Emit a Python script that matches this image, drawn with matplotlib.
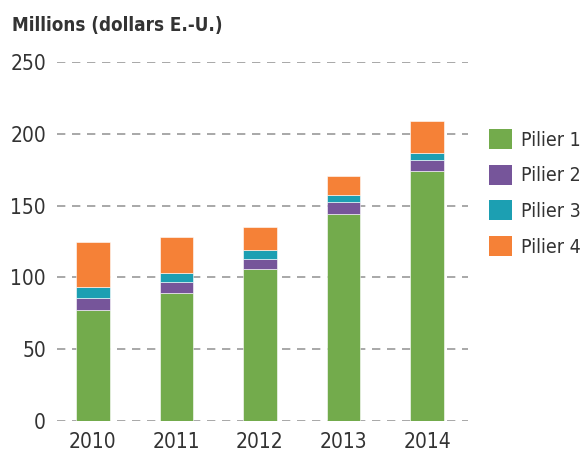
import matplotlib.pyplot as plt
import numpy as np
from matplotlib.patches import Patch

years = ["2010", "2011", "2012", "2013", "2014"]
pilier1 = [77, 89, 106, 144, 174]
pilier2 = [8.5, 8, 7, 8.5, 8]
pilier3 = [7.5, 6, 6, 5, 4.5]
pilier4 = [32, 25, 16, 13, 22.5]
series = [pilier1, pilier2, pilier3, pilier4]
labels = ["Pilier 1", "Pilier 2", "Pilier 3", "Pilier 4"]
colors = ["#73ab4c", "#76559a", "#1c9fb2", "#f58137"]

plt.rcParams['font.family'] = ['DejaVu Sans']
plt.rcParams['font.stretch'] = 'condensed'

fig = plt.figure(figsize=(5.81, 4.57), dpi=100)
ax = fig.add_axes([57 / 581, 1 - 421 / 457, (468 - 57) / 581, (421 - 62) / 457])

x = np.arange(len(years))
bottom = np.zeros(len(years))
for vals, col in zip(series, colors):
    ax.bar(x, vals, 0.4, bottom=bottom, color=col, edgecolor="white", linewidth=0.4, zorder=3)
    bottom += np.array(vals)

ax.set_xlim(-0.43, 4.49)
ax.set_ylim(0, 250)
ax.set_yticks([0, 50, 100, 150, 200, 250])
ax.set_xticks(x, years)
ax.yaxis.grid(True, linestyle=(0, (5, 4)), color="#9a9a9a", linewidth=1.2, zorder=0)
ax.tick_params(axis="both", length=0, labelsize=15, colors="#333333")
ax.tick_params(axis="y", pad=8)
ax.tick_params(axis="x", pad=8)
for s in ax.spines.values():
    s.set_visible(False)

fig.text(12 / 581, 1 - 26 / 457, "Millions (dollars E.-U.)", fontsize=13.5,
         fontweight="bold", color="#333333", va="center", ha="left")

handles = [Patch(facecolor=c, edgecolor="none") for c in colors]
fig.legend(handles, labels, loc="upper left", bbox_to_anchor=(489 / 581, 1 - 129 / 457),
           frameon=False, fontsize=14, handlelength=1.2, handleheight=1.2,
           handletextpad=0.45, labelspacing=0.78, borderpad=0, borderaxespad=0,
           labelcolor="#333333")

fig.savefig("out.png", dpi=100)
